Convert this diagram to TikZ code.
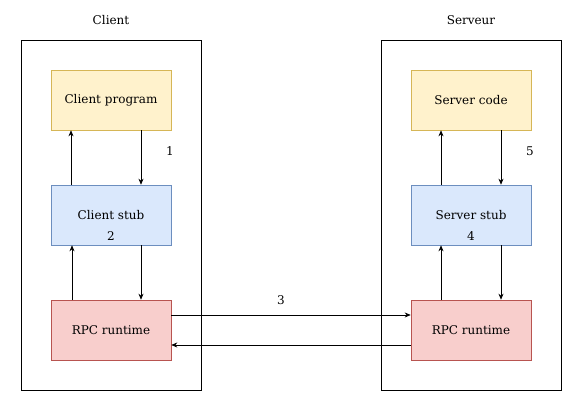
\documentclass[tikz,border=0pt]{standalone}
\usepackage{fontspec}
\setmainfont{DejaVu Serif}
\usetikzlibrary{arrows.meta}
\definecolor{progfill}{HTML}{FFF2CC}
\definecolor{progline}{HTML}{D6B656}
\definecolor{stubfill}{HTML}{DAE8FC}
\definecolor{stubline}{HTML}{6C8EBF}
\definecolor{rtfill}{HTML}{F8CECC}
\definecolor{rtline}{HTML}{B85450}
\tikzset{
	side/.style={draw=black, minimum width=180pt, minimum height=350pt, line width=0.8pt},
	layer/.style={minimum width=120pt, minimum height=60pt, line width=0.6pt},
	prog/.style={layer, draw=progline, fill=progfill},
	stub/.style={layer, draw=stubline, fill=stubfill},
	rt/.style={layer, draw=rtline, fill=rtfill},
	call/.style={-{Stealth[length=6pt,width=5pt]}, line width=0.7pt},
	tag/.style={font=\fontsize{12}{14}\selectfont}
}
\begin{document}
\begin{tikzpicture}[x=1pt,y=-1pt, font=\fontsize{12}{14}\selectfont]
	\useasboundingbox (0,0) rectangle (582,412);
	% containers
	\node[side] (client) at (111,215) {};
	\node[side] (server) at (471,215) {};
	\node (clienttitle) at (111,20) {Client};
	\node (servertitle) at (471,20) {Serveur};
	% client side
	\node[prog] (cprog) at (111,100) {Client program};
	\node[stub] (cstub) at (111,215) {Client stub};
	\node[rt] (crt) at (111,330) {RPC runtime};
	% server side
	\node[prog] (sprog) at (471,100) {Server code};
	\node[stub] (sstub) at (471,215) {Server stub};
	\node[rt] (srt) at (471,330) {RPC runtime};
	% vertical calls
	\draw[call] ([xshift=30pt]cprog.south) -- ([xshift=30pt]cstub.north);
	\draw[call] ([xshift=-40pt]cstub.north) -- ([xshift=-40pt]cprog.south);
	\draw[call] ([xshift=30pt]cstub.south) -- ([xshift=30pt]crt.north);
	\draw[call] ([xshift=-39pt]crt.north) -- ([xshift=-39pt]cstub.south);
	\draw[call] ([xshift=30pt]sprog.south) -- ([xshift=30pt]sstub.north);
	\draw[call] ([xshift=-30pt]sstub.north) -- ([xshift=-30pt]sprog.south);
	\draw[call] ([xshift=30pt]sstub.south) -- ([xshift=30pt]srt.north);
	\draw[call] ([xshift=-30pt]srt.north) -- ([xshift=-30pt]sstub.south);
	% network
	\draw[call] ([yshift=15pt]crt.east) -- ([yshift=15pt]srt.west);
	\draw[call] ([yshift=-15pt]srt.west) -- ([yshift=-15pt]crt.east);
	% step numbers
	\node[tag] (n1) at (170,151) {1};
	\node[tag] (n2) at (111,236) {2};
	\node[tag] (n3) at (281,300) {3};
	\node[tag] (n4) at (471,236) {4};
	\node[tag] (n5) at (530,151) {5};
\end{tikzpicture}
\end{document}
